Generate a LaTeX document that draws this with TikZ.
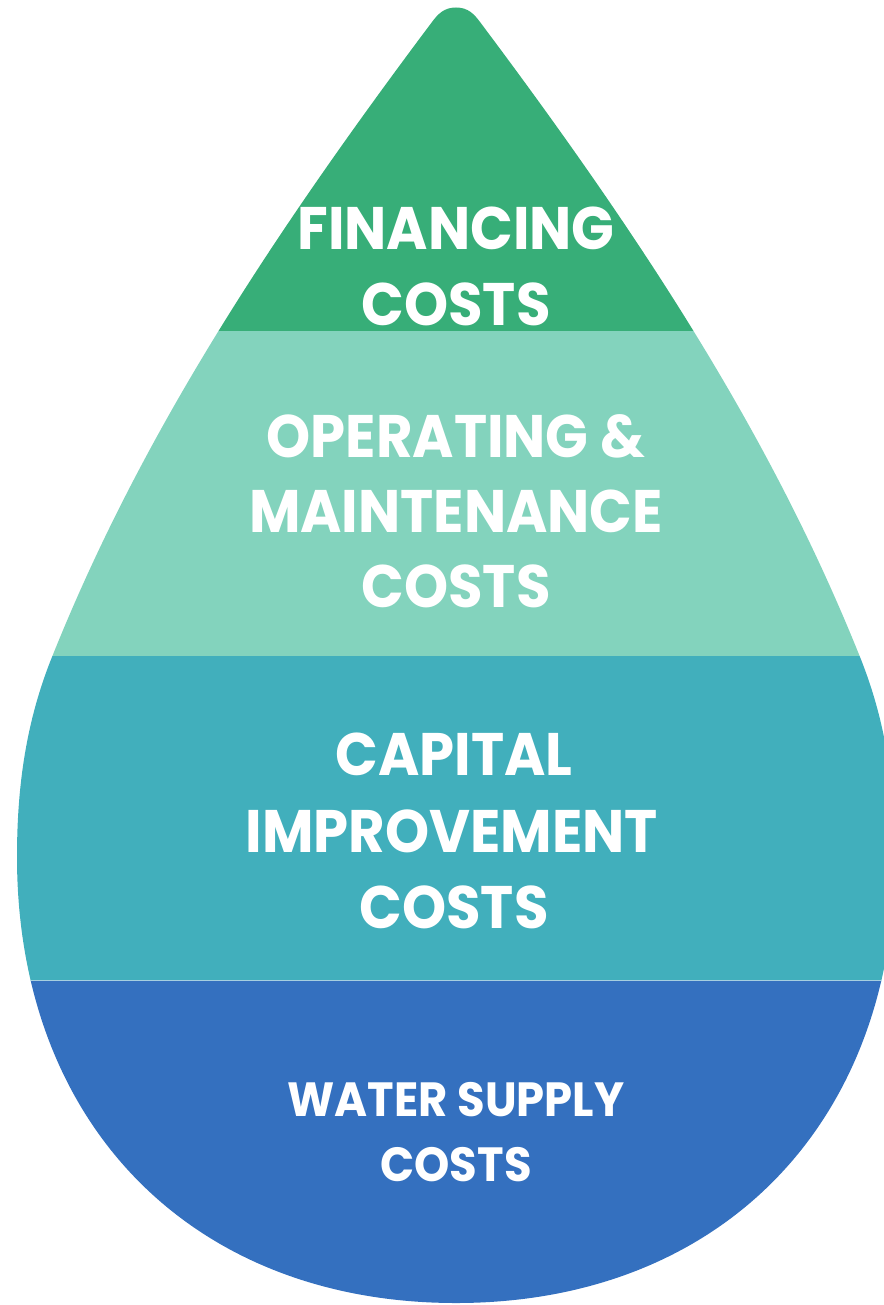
\documentclass[tikz,border=0pt]{standalone}
\usepackage{fontspec}
\setmainfont{Poppins}[FakeStretch=0.935]
\definecolor{cfin}{HTML}{37AE78}
\definecolor{cops}{HTML}{83D3BD}
\definecolor{ccap}{HTML}{41AFBC}
\definecolor{cwat}{HTML}{3470BF}
\definecolor{csep}{HTML}{A6CFE0}
\begin{document}
\begin{tikzpicture}[x=0.75pt,y=-0.75pt,
  big/.style={text=white,inner sep=0pt,anchor=base,font=\fontsize{45}{54}\selectfont\bfseries},
  small/.style={text=white,inner sep=0pt,anchor=base,font=\fontsize{36}{44}\selectfont\bfseries}]
\useasboundingbox (0,0) rectangle (884,1305);
\begin{scope}
\clip (0,0) rectangle (884,1305);
\clip (456,7.5) .. controls (468,7.5) and (474,14) .. (480,22)
  .. controls (652.5,252) and (775,445) .. (860,657)
  .. controls (887,724) and (895,790) .. (895,857)
  .. controls (895,1124.6) and (719.4,1303) .. (456,1303)
  .. controls (192.6,1303) and (17,1124.6) .. (17,857)
  .. controls (17,790) and (25,724) .. (52,657)
  .. controls (137,445) and (259.5,252) .. (432,22)
  .. controls (438,14) and (444,7.5) .. (456,7.5) -- cycle;
\fill[cfin] (0,0) rectangle (900,331);
\fill[cops] (0,331) rectangle (900,656);
\fill[ccap] (0,656) rectangle (900,980.5);
\fill[cwat] (0,980.5) rectangle (900,1310);
\draw[csep,line width=0.9pt] (0,980.5) -- (900,980.5);
\end{scope}
\node[big] (fin1) at (456,249) {FINANCING};
\node[big] (fin2) at (456,325) {COSTS};
\node[big] (ops1) at (456,457) {OPERATING \&};
\node[big] (ops2) at (456,532) {MAINTENANCE};
\node[big] (ops3) at (456,607) {COSTS};
\node[big] (cap1) at (454,775) {CAPITAL};
\node[big] (cap2) at (452,852) {IMPROVEMENT};
\node[big] (cap3) at (454,928) {COSTS};
\node[small] (wat1) at (456,1116) {WATER SUPPLY};
\node[small] (wat2) at (456,1181) {COSTS};
\end{tikzpicture}
\end{document}
